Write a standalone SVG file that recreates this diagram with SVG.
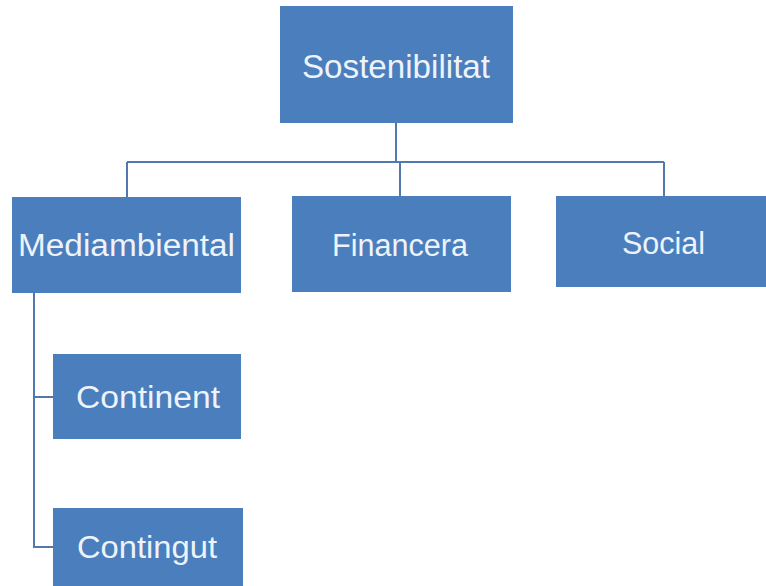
<svg xmlns="http://www.w3.org/2000/svg" width="766" height="586" viewBox="0 0 766 586">
  <style>
    .box { fill: #4a7ebd; }
    .lbl { fill: #eef3fa; font-family: "Liberation Sans", Arial, sans-serif; font-size: 31px; text-anchor: middle; }
    .conn { fill: none; stroke: #5279ad; stroke-width: 2; }
  </style>
  <rect width="766" height="586" fill="#ffffff"/>
  <g id="connectors">
    <path class="conn" d="M396,123 V162"/>
    <path class="conn" d="M127,162 H664"/>
    <path class="conn" d="M127,162 V197"/>
    <path class="conn" d="M400,162 V196"/>
    <path class="conn" d="M664,162 V196"/>
    <path class="conn" d="M34,293 V547 H53"/>
    <path class="conn" d="M34,397 H53"/>
  </g>
  <g id="node-sostenibilitat">
    <rect class="box" x="280" y="6" width="233" height="117"/>
    <text class="lbl" x="396" y="77.5" style="font-size:33px" textLength="188" lengthAdjust="spacingAndGlyphs">Sostenibilitat</text>
  </g>
  <g id="node-mediambiental">
    <rect class="box" x="12" y="197" width="229" height="96"/>
    <text class="lbl" x="126.5" y="256" textLength="217" lengthAdjust="spacingAndGlyphs">Mediambiental</text>
  </g>
  <g id="node-financera">
    <rect class="box" x="292" y="196" width="219" height="96"/>
    <text class="lbl" x="400" y="256" textLength="136" lengthAdjust="spacingAndGlyphs">Financera</text>
  </g>
  <g id="node-social">
    <rect class="box" x="556" y="196" width="212" height="91"/>
    <text class="lbl" x="663.5" y="254" textLength="83" lengthAdjust="spacingAndGlyphs">Social</text>
  </g>
  <g id="node-continent">
    <rect class="box" x="53" y="354" width="188" height="85"/>
    <text class="lbl" x="148" y="408" textLength="144" lengthAdjust="spacingAndGlyphs">Continent</text>
  </g>
  <g id="node-contingut">
    <rect class="box" x="53" y="508" width="190" height="80"/>
    <text class="lbl" x="147" y="558" textLength="140" lengthAdjust="spacingAndGlyphs">Contingut</text>
  </g>
</svg>
